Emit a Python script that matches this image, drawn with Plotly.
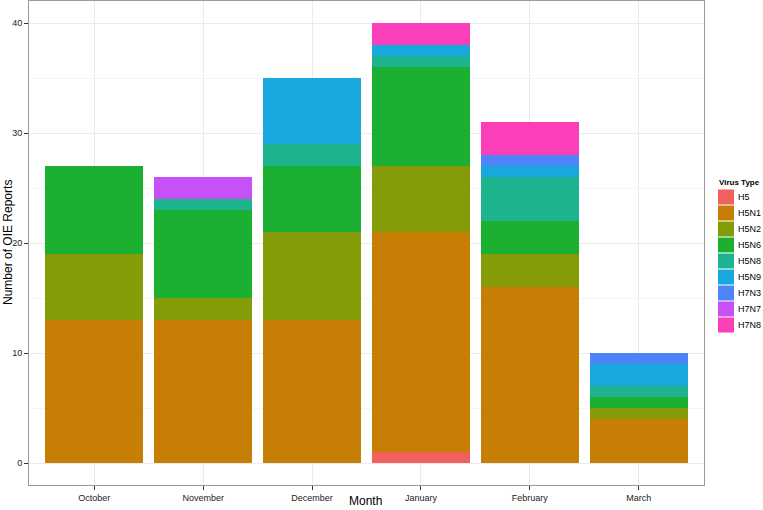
import plotly.graph_objects as go

months = ["October", "November", "December", "January", "February", "March"]
virus_types = ["H5", "H5N1", "H5N2", "H5N6", "H5N8", "H5N9", "H7N3", "H7N7", "H7N8"]

H5 = [0, 0, 0, 1, 0, 0]
H5N1 = [13, 13, 13, 20, 16, 4]
H5N2 = [6, 2, 8, 6, 3, 1]
H5N6 = [8, 8, 6, 9, 3, 1]
H5N8 = [0, 1, 2, 1, 4, 1]
H5N9 = [0, 0, 6, 1, 1, 2]
H7N3 = [0, 0, 0, 0, 1, 1]
H7N7 = [0, 2, 0, 0, 0, 0]
H7N8 = [0, 0, 0, 2, 3, 0]

series = [H5, H5N1, H5N2, H5N6, H5N8, H5N9, H7N3, H7N7, H7N8]
colors = ["#F0605E", "#C67F04", "#859C08", "#1BB031", "#1DB38E",
          "#19A8DD", "#4F83F8", "#C850F7", "#FB3FB8"]

font_family = "Liberation Sans, Arial, sans-serif"

W, H = 763, 510
L, R, T, B = 29, 59, 1, 25
PW, PH = W - L - R, H - T - B


def px_x(px):
    return (px - L) / PW


def px_y(py):
    return (H - B - py) / PH


fig = go.Figure()
for name, vals, col in zip(virus_types, series, colors):
    fig.add_trace(go.Bar(
        x=months, y=vals, name=name,
        marker=dict(color=col, line=dict(width=0)),
        width=0.9, showlegend=False,
    ))

# custom ggplot-style legend
shapes = []
annotations = []
key_top = 189
key_h = 16
for i, (name, col) in enumerate(zip(virus_types, colors)):
    y0 = key_top + i * key_h
    shapes.append(dict(
        type="rect", xref="paper", yref="paper",
        x0=px_x(718), x1=px_x(734), y0=px_y(y0 + 0.5), y1=px_y(y0 + key_h - 0.5),
        fillcolor=col, line=dict(width=0), layer="above",
    ))
    annotations.append(dict(
        text=name, xref="paper", yref="paper",
        x=px_x(736), y=px_y(y0 + key_h / 2), xanchor="left", yanchor="middle",
        showarrow=False, font=dict(size=9, color="#000000"),
    ))
annotations.append(dict(
    text="<b>Virus Type</b>", xref="paper", yref="paper",
    x=px_x(717), y=px_y(182), xanchor="left", yanchor="middle",
    showarrow=False, font=dict(size=8, color="#000000"),
))
annotations.append(dict(
    text="Month", xref="paper", yref="paper",
    x=px_x(365), y=px_y(501), xanchor="center", yanchor="middle",
    showarrow=False, font=dict(size=12, color="#000000"), borderpad=0,
))
annotations.append(dict(
    text="Number of OIE Reports", xref="paper", yref="paper",
    x=px_x(8), y=px_y(243), xanchor="center", yanchor="middle",
    textangle=-90, showarrow=False, font=dict(size=12, color="#000000"),
))

fig.update_layout(
    width=W, height=H,
    barmode="stack",
    plot_bgcolor="white", paper_bgcolor="white",
    margin=dict(l=L, r=R, t=T, b=B, pad=0, autoexpand=False),
    font=dict(family=font_family, size=10, color="#000000"),
    showlegend=False,
    shapes=shapes,
    annotations=annotations,
    xaxis=dict(
        automargin=False,
        range=[-0.6, 5.6],
        showgrid=True, gridcolor="#EBEBEB", gridwidth=1,
        ticks="outside", ticklen=4, tickcolor="#333333",
        tickfont=dict(size=9, color="#222222"),
        showline=True, linecolor="#9A9A9A", mirror=True, linewidth=1,
        zeroline=False,
    ),
    yaxis=dict(
        automargin=False,
        range=[-2, 42],
        tickvals=[0, 10, 20, 30, 40],
        showgrid=True, gridcolor="#EBEBEB", gridwidth=1,
        minor=dict(tickvals=[5, 15, 25, 35], showgrid=True, gridcolor="#F5F5F5", gridwidth=1),
        ticks="outside", ticklen=4, tickcolor="#333333",
        tickfont=dict(size=9, color="#222222"),
        showline=True, linecolor="#9A9A9A", mirror=True, linewidth=1,
        zeroline=False,
    ),
    hovermode=False,
)

fig.write_html(
    "out.html",
    config={"displayModeBar": False},
    post_script="document.body.style.margin='0';document.body.style.overflow='hidden';",
)
